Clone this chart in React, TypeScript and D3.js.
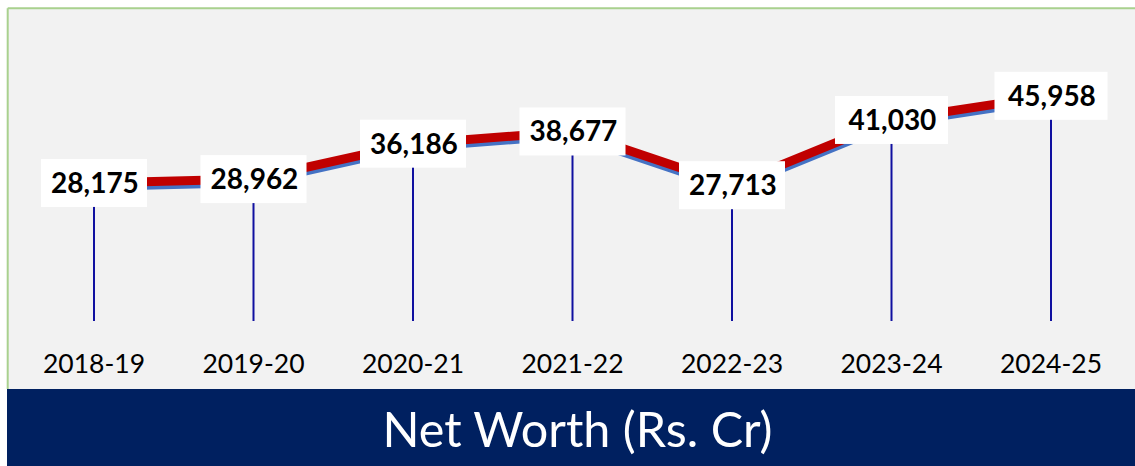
import React from "react";
import * as d3 from "d3";

const categories = ["2018-19", "2019-20", "2020-21", "2021-22", "2022-23", "2023-24", "2024-25"];
const netWorth = [28175, 28962, 36186, 38677, 27713, 41030, 45958];
const title = "Net Worth (Rs. Cr)";

const W = 1135;
const H = 466;

export default function App() {
  const x = d3.scalePoint<string>().domain(categories).range([94, 1051]);
  const y = d3.scaleLinear().domain([0, 50000]).range([321, 76]);
  const line = d3
    .line<number>()
    .x((_, i) => x(categories[i]) as number)
    .y((d) => y(d));
  const shadow = d3
    .line<number>()
    .x((_, i) => x(categories[i]) as number)
    .y((d) => y(d) + 4);
  const fmt = d3.format(",");
  return (
    <svg
      width={W}
      height={H}
      style={{ position: "absolute", left: 0, top: 0, background: "#ffffff" }}
    >
      <rect x={7} y={8} width={W - 7} height={381} fill="#f2f2f2" />
      <line x1={7.7} y1={8.3} x2={W} y2={8.3} stroke="#a9d18e" strokeWidth={2} />
      <line x1={7.7} y1={8.3} x2={7.7} y2={389} stroke="#a9d18e" strokeWidth={2} />
      {netWorth.map((v, i) => (
        <line
          key={"d" + i}
          x1={x(categories[i])}
          x2={x(categories[i])}
          y1={y(v)}
          y2={y(0)}
          stroke="#1010a0"
          strokeWidth={2}
        />
      ))}
      <path d={shadow(netWorth) || ""} fill="none" stroke="#4472c4" strokeWidth={8} strokeLinejoin="round" />
      <path d={line(netWorth) || ""} fill="none" stroke="#c00000" strokeWidth={9} strokeLinejoin="round" />
      {netWorth.map((v, i) => {
        const cx = x(categories[i]) as number;
        const cy = y(v);
        const bw = v >= 40000 ? 113 : 106;
        return (
          <g key={"l" + i}>
            <rect x={cx - bw / 2} y={cy - 24} width={bw} height={48} fill="#ffffff" />
            <text
              x={cx + 1}
              y={cy + 10}
              textAnchor="middle"
              fontFamily="Lato, 'Open Sans', sans-serif"
              fontWeight="bold"
              fontSize={28}
              fill="#000000"
            >
              {fmt(v)}
            </text>
          </g>
        );
      })}
      {categories.map((c) => (
        <text
          key={c}
          x={x(c)}
          y={373}
          textAnchor="middle"
          fontFamily="Lato, 'Open Sans', sans-serif"
          fontSize={26.5}
          fill="#000000"
        >
          {c}
        </text>
      ))}
      <rect x={7} y={389} width={W - 7} height={H - 389} fill="#002060" />
      <text
        x={577.5}
        y={447}
        textAnchor="middle"
        fontFamily="Lato, 'Open Sans', sans-serif"
        fontSize={48.5}
        fill="#ffffff"
      >
        {title}
      </text>
    </svg>
  );
}
